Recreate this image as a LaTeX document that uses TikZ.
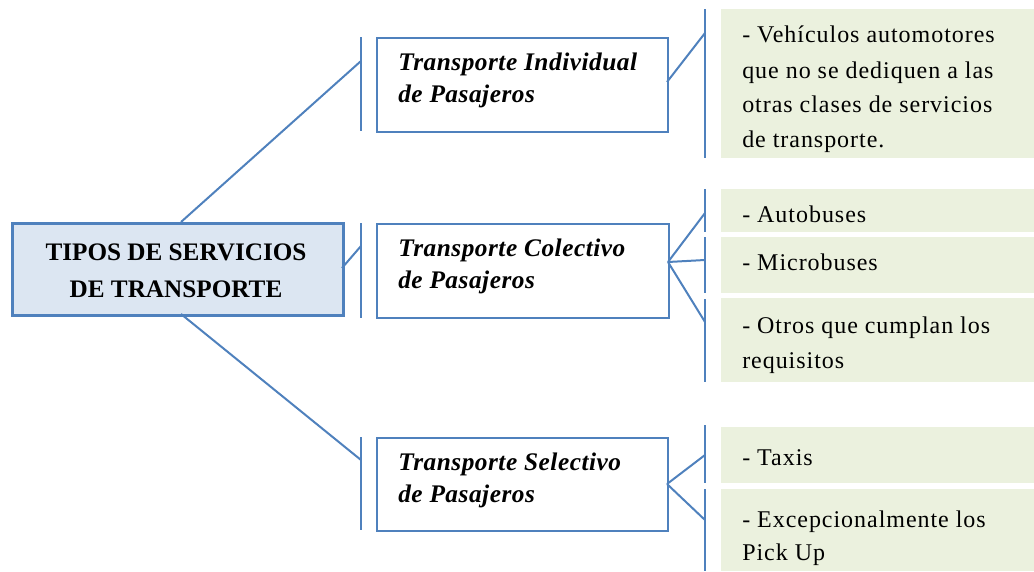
\documentclass[tikz,border=0pt]{standalone}
\usepackage{fontspec}
\setmainfont{Liberation Serif}
\newfontfamily\boxfont[LetterSpace=2]{Liberation Serif}
\newfontfamily\mainfont{Liberation Serif}
\newfontfamily\greenfont[LetterSpace=4]{Liberation Serif}
\newlength\pxu
\setlength\pxu{0.75pt}
\definecolor{lineblue}{HTML}{4F81BD}
\definecolor{mainfill}{HTML}{DCE6F2}
\definecolor{greenfill}{HTML}{EBF1DE}
\tikzset{
  conn/.style={draw=lineblue, line width=1.5pt},
  mainbox/.style={draw=lineblue, line width=2.4pt, fill=mainfill, anchor=north west, inner sep=0pt},
  catbox/.style={draw=lineblue, line width=1.6pt, fill=white, anchor=north west, inner sep=0pt},
  greenbox/.style={fill=greenfill, anchor=north west, inner sep=0pt, minimum width=313\pxu},
  cattext/.style={anchor=base west, inner sep=0pt, font=\boxfont\fontsize{19}{22}\selectfont\bfseries\itshape},
  maintext/.style={anchor=base, inner sep=0pt, font=\mainfont\fontsize{18.9}{22}\selectfont\bfseries},
  greentext/.style={anchor=base west, inner sep=0pt, font=\greenfont\fontsize{18}{21}\selectfont},
}
\begin{document}
\begin{tikzpicture}[x=0.75pt,y=-0.75pt]
\useasboundingbox (0,0) rectangle (1034,571);
% green boxes
\node[greenbox, minimum height=149\pxu] (g1) at (721,9) {};
\node[greenbox, minimum height=43\pxu] (g2) at (721,189) {};
\node[greenbox, minimum height=56\pxu] (g3) at (721,237) {};
\node[greenbox, minimum height=84\pxu] (g4) at (721,298) {};
\node[greenbox, minimum height=56\pxu] (g5) at (721,427) {};
\node[greenbox, minimum height=82\pxu] (g6) at (721,489) {};
% main box
\node[mainbox, minimum width=331\pxu, minimum height=92\pxu] (main) at (11,222) {};
% category boxes
\node[catbox, minimum width=291\pxu, minimum height=94\pxu] (c1) at (376,37) {};
\node[catbox, minimum width=292\pxu, minimum height=94\pxu] (c2) at (376,223) {};
\node[catbox, minimum width=291\pxu, minimum height=93\pxu] (c3) at (376,437) {};
% brackets
\coordinate (b1t) at (361,37); \coordinate (b1b) at (361,131);
\coordinate (b2t) at (361,223); \coordinate (b2b) at (361,318);
\coordinate (b3t) at (361,437); \coordinate (b3b) at (361,530);
\coordinate (r1t) at (705,9); \coordinate (r1b) at (705,158);
\coordinate (r2t) at (705,189); \coordinate (r2b) at (705,232);
\coordinate (r3t) at (705,237); \coordinate (r3b) at (705,293);
\coordinate (r4t) at (705,299); \coordinate (r4b) at (705,382);
\coordinate (r5t) at (705,425); \coordinate (r5b) at (705,483);
\coordinate (r6t) at (705,489); \coordinate (r6b) at (705,571);
\foreach \a/\b in {b1t/b1b,b2t/b2b,b3t/b3b,r1t/r1b,r2t/r2b,r3t/r3b,r4t/r4b,r5t/r5b,r6t/r6b}
  \draw[conn] (\a) -- (\b);
% connector end points
\coordinate (m1) at (181,222); \coordinate (m2) at (342,268); \coordinate (m3) at (181,314);
\coordinate (e1) at (361,61); \coordinate (e2) at (361,246); \coordinate (e3) at (361,460);
\coordinate (s1) at (667,82); \coordinate (s2) at (668,262); \coordinate (s3) at (667,484);
\coordinate (t1) at (705,33);
\coordinate (t2) at (705,213); \coordinate (t3) at (705,260); \coordinate (t4) at (705,322);
\coordinate (t5) at (705,455); \coordinate (t6) at (705,520);
\draw[conn] (m1) -- (e1);
\draw[conn] (m2) -- (e2);
\draw[conn] (m3) -- (e3);
\draw[conn] (s1) -- (t1);
\draw[conn] (s2) -- (t2);
\draw[conn] (s2) -- (t3);
\draw[conn] (s2) -- (t4);
\draw[conn] (s3) -- (t5);
\draw[conn] (s3) -- (t6);
% main text
\node[maintext] (mt1) at (176,260) {TIPOS DE SERVICIOS};
\node[maintext] (mt2) at (176,297) {DE TRANSPORTE};
% category texts
\node[cattext] (c1a) at (398,70) {Transporte Individual};
\node[cattext] (c1b) at (398,102) {de Pasajeros};
\node[cattext] (c2a) at (398,256) {Transporte Colectivo};
\node[cattext] (c2b) at (398,288) {de Pasajeros};
\node[cattext] (c3a) at (398,470) {Transporte Selectivo};
\node[cattext] (c3b) at (398,502) {de Pasajeros};
% green texts
\begin{scope}
\clip (721,9) rectangle (1034,158);
\node[greentext] (g1a) at (742,42) {- Vehículos automotores};
\node[greentext] (g1b) at (742,78) {que no se dediquen a las};
\node[greentext] (g1c) at (742,112) {otras clases de servicios};
\node[greentext] (g1d) at (742,147) {de transporte.};
\end{scope}
\node[greentext] (g2a) at (742,222) {- Autobuses};
\node[greentext] (g3a) at (742,270) {- Microbuses};
\node[greentext] (g4a) at (742,333) {- Otros que cumplan los};
\node[greentext] (g4b) at (742,368) {requisitos};
\node[greentext] (g5a) at (742,465) {- Taxis};
\node[greentext] (g6a) at (742,527) {- Excepcionalmente los};
\node[greentext] (g6b) at (742,560) {Pick Up};
\end{tikzpicture}
\end{document}
